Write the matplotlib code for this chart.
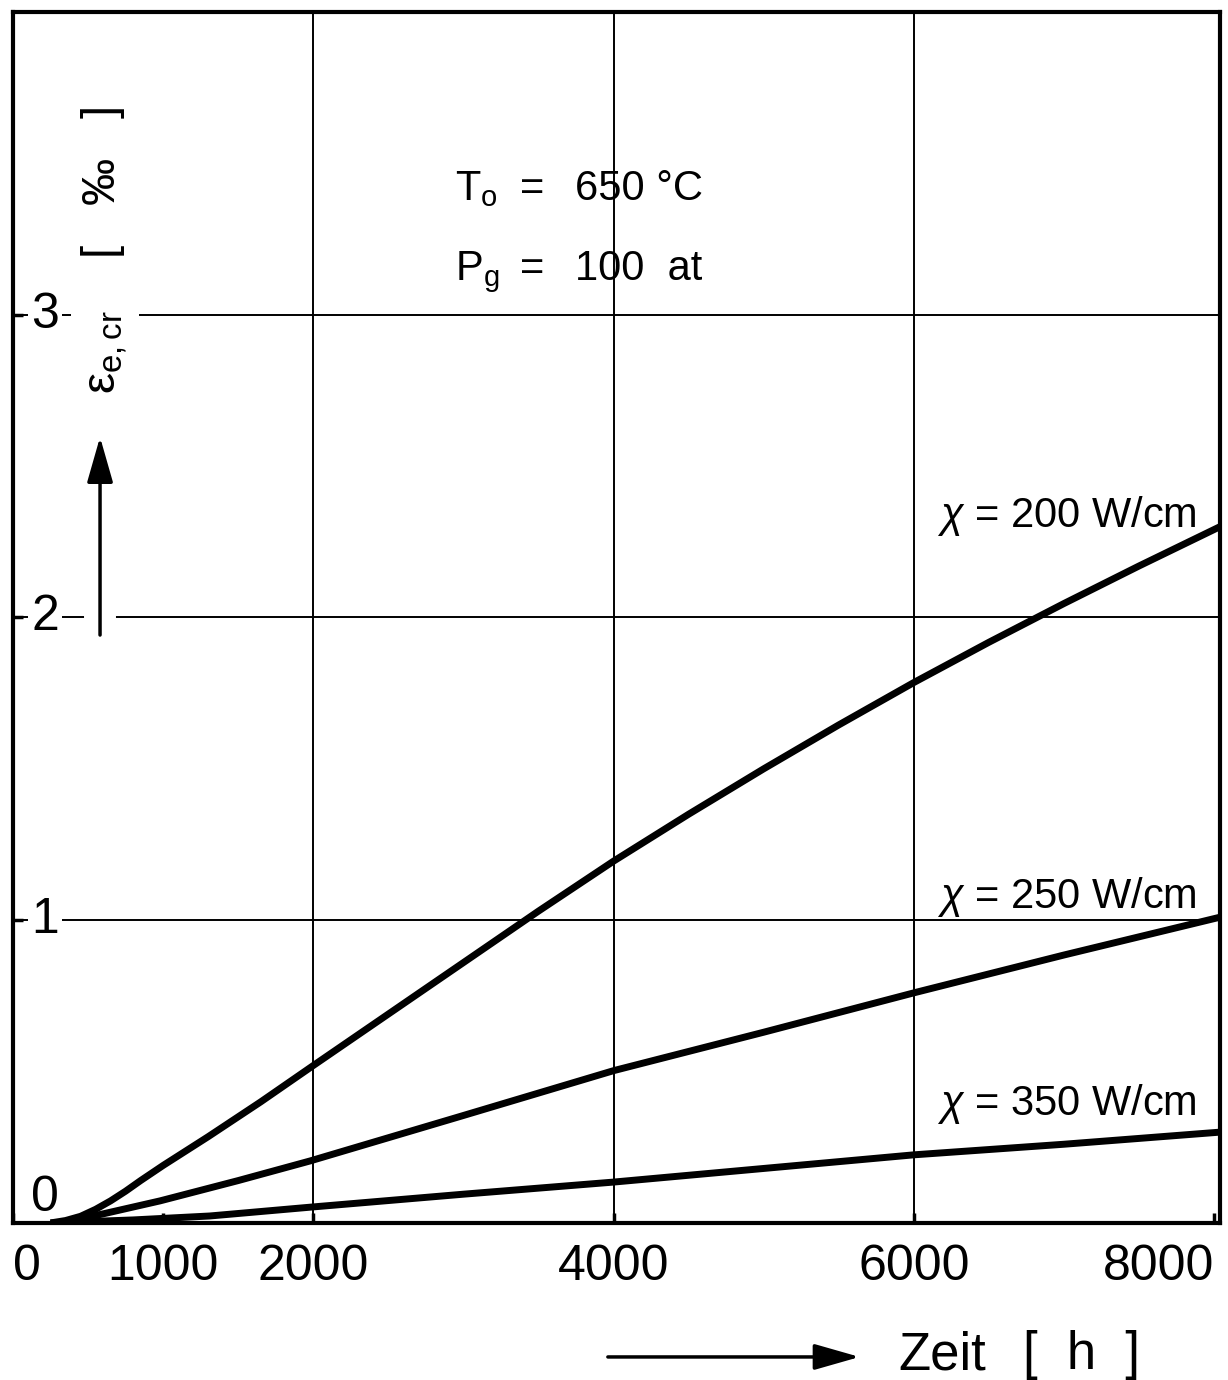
import numpy as np
import matplotlib
matplotlib.use('Agg')
import matplotlib.pyplot as plt
from matplotlib.transforms import blended_transform_factory

plt.rcParams['font.family'] = ['Liberation Sans', 'DejaVu Sans']
plt.rcParams['mathtext.fontset'] = 'custom'
plt.rcParams['mathtext.rm'] = 'Liberation Sans'
plt.rcParams['mathtext.it'] = 'Liberation Sans:italic'

# ---------------------------------------------------------
# data (time in h, strain in per mille)
# ---------------------------------------------------------
t_200 = [250, 350, 450, 550, 650, 750, 850, 1000, 1300, 1650, 2000, 2500, 3000, 3500, 4000,
         4500, 5000, 5500, 6000, 6500, 7000, 7500, 8040]
e_200 = [0.0, 0.008, 0.022, 0.045, 0.073, 0.105, 0.14, 0.19, 0.285, 0.40, 0.52, 0.69, 0.86,
         1.03, 1.195, 1.35, 1.50, 1.645, 1.785, 1.918, 2.046, 2.17, 2.30]

t_250 = [320, 600, 980, 1500, 1980, 3000, 4000, 5000, 6000, 7000, 8040]
e_250 = [0.0, 0.03, 0.073, 0.14, 0.205, 0.355, 0.503, 0.63, 0.76, 0.885, 1.01]

t_350 = [250, 800, 1310, 2000, 3000, 4000, 5000, 6000, 7000, 8040]
e_350 = [0.0, 0.01, 0.023, 0.053, 0.095, 0.135, 0.18, 0.225, 0.26, 0.30]

curve_labels = [r'$\chi$ = 200 W/cm', r'$\chi$ = 250 W/cm', r'$\chi$ = 350 W/cm']

xticks = [0, 1000, 2000, 4000, 6000, 8000]
xtick_labels = ['0', '1000', '2000', '4000', '6000', '8000']
yticks = [1, 2, 3]
ytick_labels = ['1', '2', '3']
x_grid = [2000, 4000, 6000]

fig = plt.figure(figsize=(12.28, 13.8), dpi=100)
ax = fig.add_axes([0.0106, 0.1138, 0.9829, 0.8775])
ax.set_xlim(0, 8040)
ax.set_ylim(0, 4.0)

# grid
for g in x_grid:
    ax.axvline(g, color='black', lw=1.4, zorder=1)
for g in yticks:
    ax.axhline(g, color='black', lw=1.4, zorder=1)

# curves
for t, e in [(t_200, e_200), (t_250, e_250), (t_350, e_350)]:
    ax.plot(t, e, color='black', lw=5, solid_capstyle='butt', solid_joinstyle='round', zorder=3)

for sp in ax.spines.values():
    sp.set_linewidth(3)

ax.set_xticks(xticks)
ax.set_yticks(yticks)
ax.tick_params(axis='both', direction='in', length=7, width=2.5, labelbottom=False, labelleft=False)

# x tick labels below the axis
bt = blended_transform_factory(ax.transData, ax.transAxes)
for i, (t, lab) in enumerate(zip(xticks, xtick_labels)):
    ha = 'left' if i == 0 else ('right' if i == len(xticks) - 1 else 'center')
    ax.text(t, -0.017, lab, transform=bt, ha=ha, va='top', fontsize=36)

# y tick labels inside the axis
lt = blended_transform_factory(ax.transAxes, ax.transData)
for v, lab in zip(yticks, ytick_labels):
    ax.text(0.0265, v, lab, transform=lt, ha='center', va='center', fontsize=36,
            bbox=dict(facecolor='white', edgecolor='none', pad=2), zorder=4)
ax.text(0.0265, 0.005, '0', transform=lt, ha='center', va='bottom', fontsize=36, zorder=4)

# y label with arrow
ax.text(0.0762, 0.803, r'$\mathrm{\varepsilon}_\mathrm{e,cr}$    [   ‰   ]', transform=ax.transAxes,
        rotation=90, ha='center', va='center', fontsize=34,
        bbox=dict(facecolor='white', edgecolor='none', pad=6), zorder=4)
ax.plot([0.0721, 0.0721], [0.4855, 0.56], transform=ax.transAxes, color='white', lw=23,
        solid_capstyle='butt', zorder=2)
ax.annotate('', xy=(0.0721, 0.649), xytext=(0.0721, 0.4855), xycoords='axes fraction',
            arrowprops=dict(arrowstyle='-|>,head_length=1.4,head_width=0.4', mutation_scale=20,
                            color='black', lw=2.5, shrinkA=0, shrinkB=0),
            zorder=4)

# parameter box
ax.text(0.366, 0.8447, r'$\mathrm{T_o}$', transform=ax.transAxes, ha='left', va='baseline', fontsize=30)
ax.text(0.430, 0.8447, '=', transform=ax.transAxes, ha='center', va='baseline', fontsize=30)
ax.text(0.4656, 0.8447, '650 °C', transform=ax.transAxes, ha='left', va='baseline', fontsize=30)
ax.text(0.366, 0.7787, r'$\mathrm{P_g}$', transform=ax.transAxes, ha='left', va='baseline', fontsize=30)
ax.text(0.430, 0.7787, '=', transform=ax.transAxes, ha='center', va='baseline', fontsize=30)
ax.text(0.4656, 0.7787, '100  at', transform=ax.transAxes, ha='left', va='baseline', fontsize=30)

# curve labels
for lab, yb in zip(curve_labels, [0.5747, 0.2601, 0.0892]):
    ax.text(0.981, yb, lab, transform=ax.transAxes, ha='right', va='baseline', fontsize=30)

# x label with arrow
ax.annotate('', xy=(0.700, 0.0167), xytext=(0.495, 0.0167), xycoords='figure fraction',
            arrowprops=dict(arrowstyle='-|>,head_length=1.4,head_width=0.4', mutation_scale=20,
                            color='black', lw=2.5, shrinkA=0, shrinkB=0))
fig.text(0.767, 0.0181, 'Zeit', ha='center', va='center', fontsize=38)
fig.text(0.881, 0.0181, '[  h  ]', ha='center', va='center', fontsize=38)

fig.savefig('out.png', dpi=100, facecolor='white')
